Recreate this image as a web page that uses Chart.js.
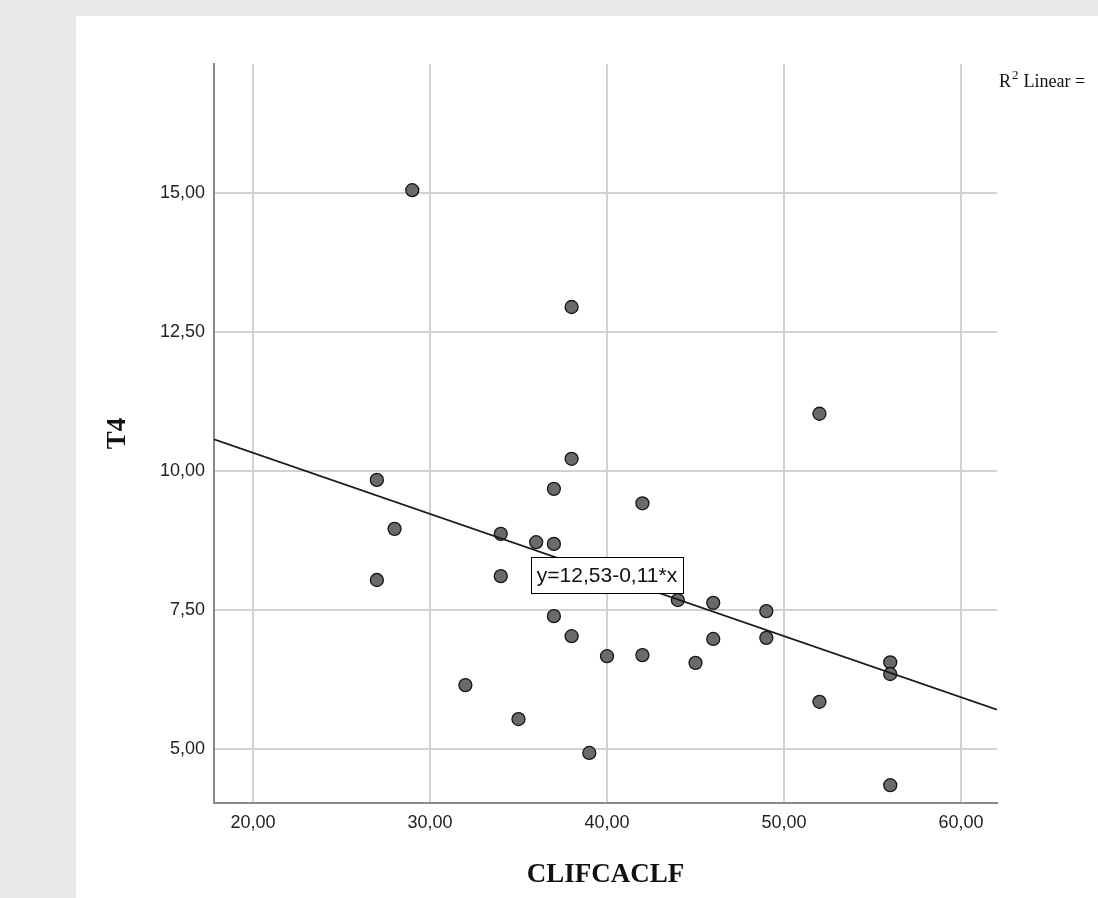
<!DOCTYPE html>
<html>
<head>
<meta charset="utf-8">
<title>T4 vs CLIFCACLF</title>
<script src="https://cdn.jsdelivr.net/npm/chart.js@4.4.1/dist/chart.umd.min.js"></script>
<style>
  html, body { margin: 0; padding: 0; background: #e8e8e8; }
  #wrap { width: 1098px; height: 898px; }
</style>
</head>
<body>
<div id="wrap"><canvas id="scatterChart" width="1098" height="898"></canvas></div>
<script>
// Data
const clifcaclf = [29, 38, 52, 38, 27, 37, 42, 28, 34, 36, 37, 27, 34, 37, 44,
    46, 46, 38, 40, 42, 45, 49, 49, 56, 56, 56, 52, 32, 35, 39];
const t4 = [15.05, 12.95, 11.03, 10.22, 9.84, 9.68, 9.42, 8.96, 8.87, 8.72, 8.69, 8.04, 8.11, 7.39, 7.68,
    7.63, 6.98, 7.03, 6.67, 6.69, 6.55, 7.48, 7.00, 6.56, 6.35, 4.35, 5.85, 6.15, 5.54, 4.93];

// Fit line y = intercept + slope * x (as printed on the chart)
const intercept = 12.53;
const slope = -0.11;
const equationLabel = 'y=12,53-0,11*x';
const labelAtX = 40;

// Axis ranges and tick labels
const xRange = [17.8, 62.03];
const yRange = [4.03, 17.32];
const xTickValues = [20, 30, 40, 50, 60];
const yTickValues = [5, 7.5, 10, 12.5, 15];

const points = clifcaclf.map((x, i) => ({ x: x, y: t4[i] }));
const fitLine = xRange.map(x => ({ x: x, y: intercept + slope * x }));

const fmt = v => v.toFixed(2).replace('.', ',');

// Gray page with white panel behind the chart
const panelBackground = {
    id: 'panelBackground',
    beforeDraw(chart) {
        const ctx = chart.ctx;
        ctx.save();
        ctx.fillStyle = '#e8e8e8';
        ctx.fillRect(0, 0, chart.width, chart.height);
        ctx.fillStyle = '#ffffff';
        ctx.fillRect(76, 16, chart.width - 76, chart.height - 16);
        ctx.restore();
    }
};

// Equation box on the fit line and the R² note
const annotations = {
    id: 'annotations',
    afterDatasetsDraw(chart) {
        const ctx = chart.ctx;
        const xs = chart.scales.x;
        const ys = chart.scales.y;
        const px = xs.getPixelForValue(labelAtX);
        const py = ys.getPixelForValue(intercept + slope * labelAtX);

        ctx.save();
        ctx.font = '21px "Liberation Sans", Arial, sans-serif';
        const w = Math.round(ctx.measureText(equationLabel).width + 12);
        const h = 36;
        const bx = Math.round(px - w / 2);
        const by = Math.round(py - h / 2);
        ctx.fillStyle = '#ffffff';
        ctx.fillRect(bx, by, w, h);
        ctx.strokeStyle = '#000000';
        ctx.lineWidth = 1;
        ctx.strokeRect(bx + 0.5, by + 0.5, w, h);
        ctx.fillStyle = '#111111';
        ctx.textAlign = 'center';
        ctx.textBaseline = 'middle';
        ctx.fillText(equationLabel, px, py + 1);

        // R² Linear = (cut off at the right edge, as in the reference)
        ctx.textAlign = 'left';
        ctx.textBaseline = 'alphabetic';
        ctx.font = '18px "Liberation Serif", "Times New Roman", serif';
        let tx = 999;
        ctx.fillText('R', tx, 87);
        tx += ctx.measureText('R').width;
        ctx.font = '13px "Liberation Serif", "Times New Roman", serif';
        ctx.fillText('2', tx + 1, 79);
        tx += ctx.measureText('2').width + 6;
        ctx.font = '18px "Liberation Serif", "Times New Roman", serif';
        ctx.fillText('Linear =', tx, 87);
        ctx.restore();
    }
};

const tickFont = { family: '"Liberation Sans", Arial, sans-serif', size: 18 };
const titleFont = { family: '"Liberation Serif", "Times New Roman", serif', size: 27, weight: 'bold' };

new Chart(document.getElementById('scatterChart'), {
    type: 'scatter',
    data: {
        datasets: [
            {
                label: 'T4',
                data: points,
                backgroundColor: '#6a6a6a',
                borderColor: '#161616',
                borderWidth: 1.3,
                pointRadius: 6.5,
                pointHoverRadius: 6.5,
                order: 2
            },
            {
                label: 'Fit',
                type: 'line',
                data: fitLine,
                borderColor: '#1a1a1a',
                borderWidth: 1.7,
                pointRadius: 0,
                fill: false,
                order: 1
            }
        ]
    },
    options: {
        responsive: false,
        animation: false,
        devicePixelRatio: 1,
        layout: { padding: { left: 76, top: 64, right: 101, bottom: 0 } },
        plugins: {
            legend: { display: false },
            tooltip: { enabled: false }
        },
        scales: {
            x: {
                type: 'linear',
                min: xRange[0],
                max: xRange[1],
                afterBuildTicks: scale => { scale.ticks = xTickValues.map(v => ({ value: v })); },
                afterFit: scale => { scale.height = 95; },
                grid: { color: '#d2d2d2', lineWidth: 2, drawTicks: false },
                border: { color: '#8a8a8a', width: 2 },
                ticks: { font: tickFont, color: '#222222', padding: 9, callback: v => fmt(v) },
                title: {
                    display: true,
                    text: 'CLIFCACLF',
                    font: titleFont,
                    color: '#111111',
                    padding: { top: 0, bottom: 7 }
                }
            },
            y: {
                type: 'linear',
                min: yRange[0],
                max: yRange[1],
                afterBuildTicks: scale => { scale.ticks = yTickValues.map(v => ({ value: v })); },
                afterFit: scale => { scale.width = 138; },
                grid: { color: '#d2d2d2', lineWidth: 2, drawTicks: false },
                border: { color: '#8a8a8a', width: 2 },
                ticks: { font: tickFont, color: '#222222', padding: 9, callback: v => fmt(v) },
                title: {
                    display: true,
                    text: 'T4',
                    font: titleFont,
                    color: '#111111',
                    padding: { top: 26, bottom: 0 }
                }
            }
        }
    },
    plugins: [panelBackground, annotations]
});
</script>
</body>
</html>
